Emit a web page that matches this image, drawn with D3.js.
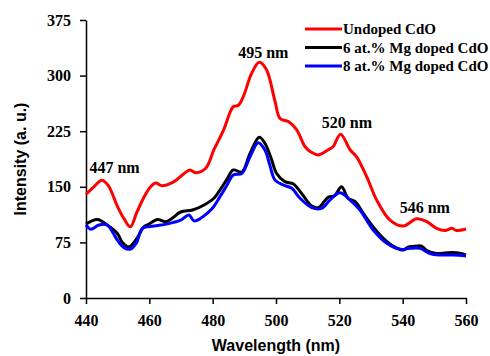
<!DOCTYPE html>
<html>
<head>
<meta charset="utf-8">
<script src="https://cdn.jsdelivr.net/npm/d3@7"></script>
<style>
    body { margin: 0; background: #fff; }
    .tick text { font-family: "Liberation Serif", "Times New Roman", serif; font-weight: bold; font-size: 16px; fill: #000; }
    .domain, .tick line { stroke: #000; stroke-width: 1.5px; }
</style>
</head>
<body>
<div id="chart"></div>
<script>
// Undoped CdO
const redWl  = [440, 442.5, 445, 447, 450, 452, 454, 456, 458.3, 460.4, 462, 464, 467.8, 471, 472.8, 474.6, 477.8, 480.4, 483.4, 486.5, 488.1, 489.7, 492.3, 494.7, 497, 499.6, 501.3, 503.9, 506.5, 509.2, 511, 513.4, 516.5, 518, 520.4, 523.4, 525.5, 528.6, 531.8, 536, 540.2, 544.4, 547.6, 550.7, 553.4, 555.5, 557, 560];
const redVal = [140, 150, 159, 152, 123, 107, 96, 115, 136, 150, 155, 151.5, 157, 168, 172.7, 169, 175, 200, 226, 258, 260, 272, 303, 318, 308, 267, 242, 238, 227, 204, 197, 193, 200, 204, 221, 200, 190, 164, 132, 105, 97, 107, 103, 94, 91, 94, 91, 93];

// 6 at.% Mg doped CdO
const blackWl  = [440, 443.6, 446.7, 449.9, 451.5, 453.6, 456, 458.3, 460, 462.5, 465.2, 467, 469.9, 473.6, 477.3, 480.4, 482.3, 484.5, 486.5, 489.2, 491.8, 494.7, 496.5, 498.5, 500.2, 502.8, 505.5, 508.1, 511.3, 513.4, 516.5, 518.5, 520.7, 522.8, 525, 527.6, 530.7, 533.9, 537, 540.2, 541.8, 544.4, 546, 547.6, 550.7, 553.9, 557, 560];
const blackVal = [100, 106, 98.5, 87, 75, 69, 80, 96, 100, 106, 103, 107, 116, 118.7, 125.5, 134.5, 145.7, 160, 172.7, 170, 195, 216.8, 208.7, 188, 168, 157, 153.8, 141, 124, 122, 136, 138, 150, 134.5, 130, 114, 96, 80.5, 70, 64.7, 69, 70, 70, 64, 60, 61, 61, 58];

// 8 at.% Mg doped CdO
const blueWl  = [440, 441.5, 444.1, 446.7, 449.9, 452, 454.1, 456, 457.8, 461.5, 465.7, 469.9, 472.5, 474.1, 476.7, 479.9, 482.3, 484.5, 486.5, 489.2, 491.8, 494.4, 496.5, 498, 499.7, 502.3, 505, 507.6, 511.3, 514.4, 517, 520.2, 523.4, 526.5, 530.7, 535, 539.2, 542.3, 545.5, 548.6, 551.8, 556, 560];
const blueVal = [98.5, 92.7, 98.5, 98.5, 78, 68, 66, 75, 94, 97, 100, 105, 112, 104, 109, 121, 136.7, 152, 166, 168, 190.6, 209.5, 199.6, 180, 159, 152.4, 148, 134.5, 122, 121, 132, 142, 132, 118.7, 91.7, 73.8, 65.7, 67, 67, 60, 58, 58, 56.7];

const seriesNames  = ["Undoped CdO", "6 at.% Mg doped CdO", "8 at.% Mg doped CdO"];
const seriesColors = ["#ff0000", "#000000", "#0000ff"];

const xTicks = [440, 460, 480, 500, 520, 540, 560];
const yTicks = [0, 75, 150, 225, 300, 375];

// peak annotations
const peakLabels = ["447 nm", "495 nm", "520 nm", "546 nm"];
const peakWl     = [449, 496, 522.4, 547];
const peakVal    = [169, 324, 229, 115];

const width = 490, height = 356;
const margin = {top: 20, right: 24, bottom: 58, left: 86};

const svg = d3.select("#chart").append("svg")
    .attr("width", width)
    .attr("height", height);

const x = d3.scaleLinear().domain([440, 560]).range([margin.left, width - margin.right]);
const y = d3.scaleLinear().domain([0, 375]).range([height - margin.bottom, margin.top]);

svg.append("g")
    .attr("transform", `translate(0,${height - margin.bottom})`)
    .call(d3.axisBottom(x).tickValues(xTicks).tickSize(6).tickPadding(11).tickSizeOuter(0));

svg.append("g")
    .attr("transform", `translate(${margin.left},0)`)
    .call(d3.axisLeft(y).tickValues(yTicks).tickSize(6).tickPadding(9).tickSizeOuter(0));

// axis titles
svg.append("text")
    .attr("x", (x(440) + x(560)) / 2)
    .attr("y", 351)
    .attr("text-anchor", "middle")
    .style("font-family", "'Liberation Sans', Arial, sans-serif")
    .style("font-weight", "bold")
    .style("font-size", "16px")
    .text("Wavelength (nm)");

svg.append("text")
    .attr("transform", `translate(26,${(y(0) + y(375)) / 2}) rotate(-90)`)
    .attr("text-anchor", "middle")
    .style("font-family", "'Liberation Sans', Arial, sans-serif")
    .style("font-weight", "bold")
    .style("font-size", "16px")
    .text("Intensity (a. u.)");

const line = d3.line()
    .x(d => x(d[0]))
    .y(d => y(d[1]))
    .curve(d3.curveCatmullRom.alpha(0.5));

const series = [
    d3.zip(redWl, redVal),
    d3.zip(blackWl, blackVal),
    d3.zip(blueWl, blueVal)
];

series.forEach((s, i) => {
    svg.append("path")
        .datum(s)
        .attr("fill", "none")
        .attr("stroke", seriesColors[i])
        .attr("stroke-width", 3)
        .attr("stroke-linejoin", "round")
        .attr("d", line);
});

// peak labels
svg.selectAll(".peak")
    .data(peakLabels)
    .enter()
    .append("text")
    .attr("class", "peak")
    .attr("x", (d, i) => x(peakWl[i]))
    .attr("y", (d, i) => y(peakVal[i]))
    .attr("text-anchor", "middle")
    .style("font-family", "'Liberation Serif', 'Times New Roman', serif")
    .style("font-weight", "bold")
    .style("font-size", "16px")
    .text(d => d);

// legend
const legend = svg.append("g").attr("transform", "translate(305,29)");
seriesNames.forEach((name, i) => {
    const row = legend.append("g").attr("transform", `translate(0,${i * 18.5})`);
    row.append("line")
        .attr("x1", 0).attr("x2", 37)
        .attr("stroke", seriesColors[i])
        .attr("stroke-width", 3);
    row.append("text")
        .attr("x", 38)
        .attr("y", 5)
        .style("font-family", "'Liberation Serif', 'Times New Roman', serif")
        .style("font-weight", "bold")
        .style("font-size", "15px")
        .text(name);
});
</script>
</body>
</html>
